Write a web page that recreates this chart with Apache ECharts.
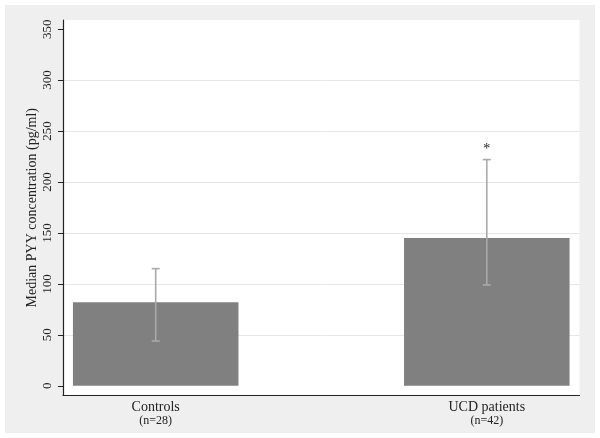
<!DOCTYPE html>
<html>
<head>
<meta charset="utf-8">
<script src="https://cdn.jsdelivr.net/npm/echarts@6/dist/echarts.min.js"></script>
<style>
  html, body { margin: 0; padding: 0; background: #ffffff; }
  #wrap { position: absolute; left: 0; top: 0; width: 600px; height: 438px; background: #ffffff; }
  #chart { position: absolute; left: 5px; top: 5px; width: 590px; height: 428px; background: #efefef; }
</style>
</head>
<body>
<div id="wrap"><div id="chart"></div></div>
<script>
// ---- data ----
var categories = ['Controls', 'UCD patients'];
var sampleSizes = ['(n=28)', '(n=42)'];
var positions = [1, 2];
var medians = [82, 145];
var errLow = [44, 99];
var errHigh = [115, 222];
var significance = ['', '*'];
var yTicks = [0, 50, 100, 150, 200, 250, 300, 350];
var yTitle = 'Median PYY concentration (pg/ml)';

var serif = '"Liberation Serif", "DejaVu Serif", serif';
var chart = echarts.init(document.getElementById('chart'), null, { renderer: 'canvas' });

var barData = positions.map(function (p, i) { return [p, medians[i]]; });
var errData = positions.map(function (p, i) { return [p, errLow[i], errHigh[i], i]; });
var gridColors = yTicks.map(function (t, i) {
  return (i === 0 || i === yTicks.length - 1) ? 'rgba(0,0,0,0)' : '#e6e6e6';
});

var option = {
  backgroundColor: '#efefef',
  animation: false,
  grid: {
    left: 58, right: 15.5, top: 15, bottom: 37.5,
    show: true, backgroundColor: '#ffffff', borderWidth: 0
  },
  xAxis: {
    type: 'value',
    min: 0.72, max: 2.28,
    axisLine: { show: true, onZero: false, lineStyle: { color: '#222', width: 1.2 } },
    axisTick: { show: false, customValues: positions },
    splitLine: { show: false },
    axisLabel: {
      customValues: positions,
      margin: 5,
      formatter: function (v) {
        var i = positions.indexOf(v);
        if (i < 0) return '';
        return '{a|' + categories[i] + '}\n{b|' + sampleSizes[i] + '}';
      },
      rich: {
        a: { fontFamily: serif, fontSize: 14, color: '#222', lineHeight: 14 },
        b: { fontFamily: serif, fontSize: 12, color: '#222', lineHeight: 13 }
      }
    }
  },
  yAxis: {
    type: 'value',
    min: -9.5, max: 359,
    name: yTitle,
    nameLocation: 'middle',
    nameGap: 24,
    nameRotate: 90,
    nameMoveOverlap: false,
    nameTextStyle: { fontFamily: serif, fontSize: 14, color: '#222' },
    axisLine: { show: true, onZero: false, lineStyle: { color: '#222', width: 1.2 } },
    axisTick: { show: true, length: 5, customValues: yTicks, lineStyle: { color: '#222' } },
    axisLabel: {
      customValues: yTicks,
      rotate: 90,
      margin: 9,
      fontFamily: serif, fontSize: 13, color: '#222'
    },
    splitLine: { show: true, lineStyle: { color: gridColors, width: 1 } }
  },
  series: [
    {
      type: 'custom',
      data: barData,
      encode: { x: 0, y: 1 },
      renderItem: function (params, api) {
        var x = api.value(0), y = api.value(1);
        var top = api.coord([x, y]);
        var base = api.coord([x, 0]);
        var w = api.size([0.5, 0])[0];
        return {
          type: 'rect',
          shape: { x: top[0] - w / 2, y: top[1], width: w, height: base[1] - top[1] },
          style: { fill: '#808080' }
        };
      },
      z: 2
    },
    {
      type: 'custom',
      data: errData,
      encode: { x: 0, y: [1, 2] },
      renderItem: function (params, api) {
        var x = api.value(0);
        var lo = api.coord([x, api.value(1)]);
        var hi = api.coord([x, api.value(2)]);
        var idx = api.value(3);
        var cap = 4;
        var st = { stroke: '#a9a9a9', lineWidth: 1.6 };
        var children = [
          { type: 'line', shape: { x1: lo[0], y1: lo[1], x2: hi[0], y2: hi[1] }, style: st },
          { type: 'line', shape: { x1: lo[0] - cap, y1: lo[1], x2: lo[0] + cap, y2: lo[1] }, style: st },
          { type: 'line', shape: { x1: hi[0] - cap, y1: hi[1], x2: hi[0] + cap, y2: hi[1] }, style: st }
        ];
        if (significance[idx]) {
          children.push({
            type: 'text',
            style: {
              text: significance[idx], x: hi[0], y: hi[1] - 3,
              align: 'center', verticalAlign: 'bottom',
              font: '14px ' + serif, fill: '#222'
            }
          });
        }
        return { type: 'group', children: children };
      },
      z: 3
    }
  ]
};
chart.setOption(option);
</script>
</body>
</html>
